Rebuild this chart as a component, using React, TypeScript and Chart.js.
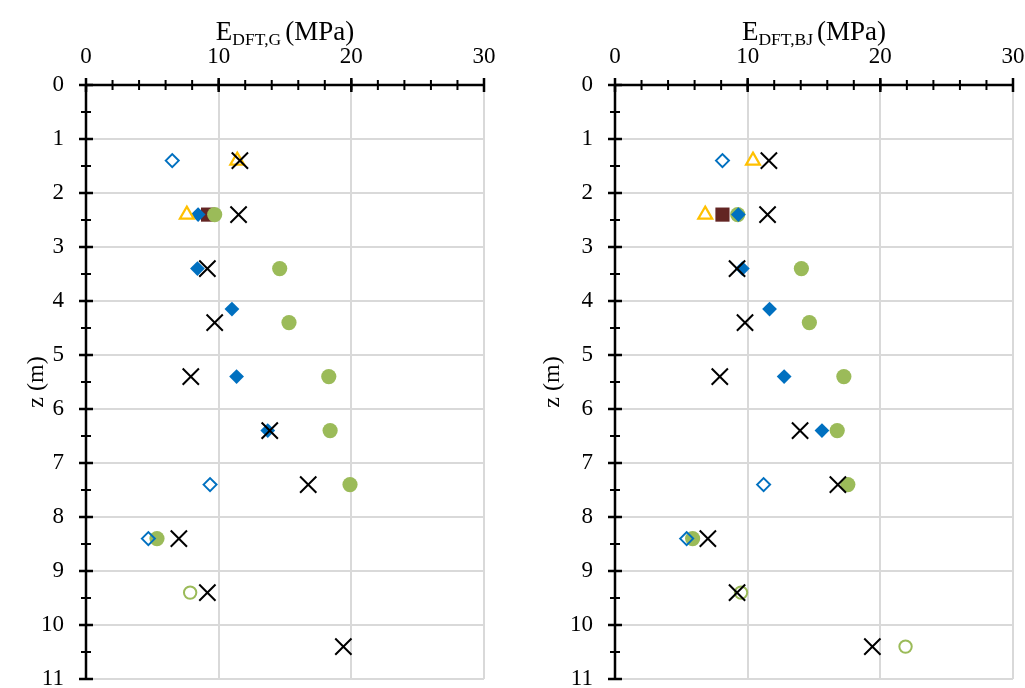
import { useEffect, useRef } from "react";
import { Chart, registerables } from "chart.js";

Chart.register(...registerables);

const FONT = "'Liberation Serif', 'Times New Roman', serif";

// Depths (m)
const openDiamondZ = [1.4, 7.4, 8.4];
const triangleZ = [1.4, 2.4];
const filledDiamondZ = [2.4, 3.4, 4.15, 5.4, 6.4];
const squareZ = [2.4];
const greenZ = [2.4, 3.4, 4.4, 5.4, 6.4, 7.4, 8.4];
const openGreenZG = [9.4];
const openGreenZBJ = [9.4, 10.4];
const crossZ = [1.4, 2.4, 3.4, 4.4, 5.4, 6.4, 7.4, 8.4, 9.4, 10.4];

// E_DFT,G (MPa)
const openDiamondG = [6.5, 9.35, 4.7];
const triangleG = [11.4, 7.6];
const filledDiamondG = [8.45, 8.4, 11.0, 11.35, 13.7];
const squareG = [9.2];
const greenG = [9.7, 14.6, 15.3, 18.3, 18.4, 19.9, 5.35];
const openGreenG = [7.85];
const crossG = [11.6, 11.5, 9.15, 9.7, 7.9, 13.85, 16.75, 7.0, 9.15, 19.4];

// E_DFT,BJ (MPa)
const openDiamondBJ = [8.1, 11.2, 5.4];
const triangleBJ = [10.4, 6.8];
const filledDiamondBJ = [9.3, 9.6, 11.65, 12.75, 15.6];
const squareBJ = [8.1];
const greenBJ = [9.25, 14.05, 14.65, 17.25, 16.75, 17.55, 5.85];
const openGreenBJ = [9.5, 21.9];
const crossBJ = [11.6, 11.5, 9.2, 9.8, 7.9, 13.95, 16.8, 7.0, 9.2, 19.4];

const xTickValues = [0, 10, 20, 30];
const zTickValues = [0, 1, 2, 3, 4, 5, 6, 7, 8, 9, 10, 11];

const BLUE = "#0070C0";
const GREEN = "#9BBB59";
const BROWN = "#632523";
const YELLOW = "#FFC000";

const pts = (xs: number[], zs: number[]) => xs.map((x, i) => ({ x, y: zs[i] }));

type PanelData = {
  openDiamond: number[];
  triangle: number[];
  filledDiamond: number[];
  square: number[];
  green: number[];
  openGreen: number[];
  openGreenZ: number[];
  cross: number[];
};

const excelAxes = {
  id: "excelAxes",
  beforeDatasetsDraw(chart: any) {
    const { ctx } = chart;
    const xs = chart.scales.x;
    const ys = chart.scales.y;
    const xMin = xTickValues[0];
    const xMax = xTickValues[xTickValues.length - 1];
    const zMin = zTickValues[0];
    const zMax = zTickValues[zTickValues.length - 1];
    const x0 = xs.getPixelForValue(xMin);
    const y0 = ys.getPixelForValue(zMin);
    ctx.save();
    ctx.strokeStyle = "#000";
    ctx.lineWidth = 2;
    ctx.beginPath();
    for (let v = xMin; v <= xMax + 1e-9; v += 2) {
      const px = xs.getPixelForValue(v);
      ctx.moveTo(px, y0 - 5);
      ctx.lineTo(px, y0 + 5);
    }
    for (let v = zMin; v <= zMax + 1e-9; v += 0.5) {
      const py = ys.getPixelForValue(v);
      ctx.moveTo(x0 - 5, py);
      ctx.lineTo(x0 + 5, py);
    }
    ctx.stroke();
    ctx.lineWidth = 2.5;
    ctx.beginPath();
    xTickValues.forEach((v) => {
      const px = xs.getPixelForValue(v);
      ctx.moveTo(px, y0 - 7);
      ctx.lineTo(px, y0 + 7);
    });
    zTickValues.forEach((v) => {
      const py = ys.getPixelForValue(v);
      ctx.moveTo(x0 - 7, py);
      ctx.lineTo(x0 + 7, py);
    });
    ctx.stroke();
    ctx.lineWidth = 2.5;
    ctx.beginPath();
    ctx.moveTo(x0, y0);
    ctx.lineTo(xs.getPixelForValue(xMax), y0);
    ctx.moveTo(x0, y0);
    ctx.lineTo(x0, ys.getPixelForValue(zMax));
    ctx.stroke();
    ctx.restore();
  },
  afterDraw(chart: any, _args: any, opts: any) {
    const { ctx, chartArea } = chart;
    ctx.save();
    ctx.fillStyle = "#000";
    const big = `27px ${FONT}`;
    const small = `17.5px ${FONT}`;
    const main = "E";
    const sub = opts.sub as string;
    const tail = "(MPa)";
    ctx.font = big;
    const wMain = ctx.measureText(main).width;
    const wTail = ctx.measureText(tail).width;
    ctx.font = small;
    const wSub = ctx.measureText(sub).width;
    const gap = 4;
    const total = wMain + wSub + gap + wTail;
    let x = (chartArea.left + chartArea.right) / 2 - total / 2;
    const base = 40;
    ctx.textBaseline = "alphabetic";
    ctx.textAlign = "left";
    ctx.font = big;
    ctx.fillText(main, x, base);
    x += wMain;
    ctx.font = small;
    ctx.fillText(sub, x, base + 5);
    x += wSub + gap;
    ctx.font = big;
    ctx.fillText(tail, x, base);
    ctx.translate(opts.yTitleX, (chartArea.top + chartArea.bottom) / 2);
    ctx.rotate(-Math.PI / 2);
    ctx.font = `24px ${FONT}`;
    ctx.textAlign = "center";
    ctx.textBaseline = "middle";
    ctx.fillText("z (m)", 0, 0);
    ctx.restore();
  },
};

function Panel(props: {
  left: number;
  width: number;
  axisWidth: number;
  rightPad: number;
  sub: string;
  yTitleX: number;
  data: PanelData;
}) {
  const ref = useRef<HTMLCanvasElement | null>(null);
  useEffect(() => {
    if (!ref.current) return;
    const d = props.data;
    const chart = new Chart(ref.current, {
      type: "scatter",
      data: {
        datasets: [
          {
            label: "cross",
            data: pts(d.cross, crossZ),
            pointStyle: "crossRot",
            pointRadius: 11.5,
            borderColor: "#000",
            backgroundColor: "#000",
            borderWidth: 2,
          },
          {
            label: "triangle",
            data: pts(d.triangle, triangleZ),
            pointStyle: "triangle",
            pointRadius: 8,
            borderColor: YELLOW,
            backgroundColor: "rgba(0,0,0,0)",
            borderWidth: 2.2,
          },
          {
            label: "openDiamond",
            data: pts(d.openDiamond, openDiamondZ),
            pointStyle: "rectRot",
            pointRadius: 6.5,
            borderColor: BLUE,
            backgroundColor: "rgba(0,0,0,0)",
            borderWidth: 2,
          },
          {
            label: "filledDiamond",
            data: pts(d.filledDiamond, filledDiamondZ),
            pointStyle: "rectRot",
            pointRadius: 7.4,
            borderColor: BLUE,
            backgroundColor: BLUE,
            borderWidth: 0,
          },
          {
            label: "green",
            data: pts(d.green, greenZ),
            pointStyle: "circle",
            pointRadius: 7.6,
            borderColor: GREEN,
            backgroundColor: GREEN,
            borderWidth: 0,
          },
          {
            label: "square",
            data: pts(d.square, squareZ),
            pointStyle: "rect",
            pointRadius: 10,
            borderColor: BROWN,
            backgroundColor: BROWN,
            borderWidth: 0,
          },
          {
            label: "openGreen",
            data: pts(d.openGreen, d.openGreenZ),
            pointStyle: "circle",
            pointRadius: 6.2,
            borderColor: GREEN,
            backgroundColor: "rgba(0,0,0,0)",
            borderWidth: 2,
          },
        ],
      },
      options: {
        responsive: false,
        animation: false,
        events: [],
        layout: { autoPadding: false, padding: { left: 0, top: 0, right: props.rightPad, bottom: 9 } },
        plugins: {
          legend: { display: false },
          tooltip: { enabled: false },
          excelAxes: { sub: props.sub, yTitleX: props.yTitleX },
        } as any,
        scales: {
          x: {
            type: "linear",
            position: "top",
            min: 0,
            max: 30,
            afterBuildTicks: (s: any) => {
              s.ticks = xTickValues.map((v) => ({ value: v }));
            },
            afterFit: (s: any) => {
              s.height = 85;
              s.paddingLeft = 0;
              s.paddingRight = 0;
            },
            ticks: {
              font: { family: FONT, size: 23 },
              color: "#000",
              padding: 14,
              maxRotation: 0,
            },
            grid: { color: "#d9d9d9", lineWidth: 2, drawTicks: false },
            border: { display: false },
          },
          y: {
            type: "linear",
            reverse: true,
            min: 0,
            max: 11,
            afterBuildTicks: (s: any) => {
              s.ticks = zTickValues.map((v) => ({ value: v }));
            },
            afterFit: (s: any) => {
              s.width = props.axisWidth;
              s.paddingTop = 0;
              s.paddingBottom = 0;
            },
            ticks: {
              font: { family: FONT, size: 23 },
              color: "#000",
              padding: 22,
            },
            grid: { color: "#d9d9d9", lineWidth: 2, drawTicks: false },
            border: { display: false },
          },
        },
      },
      plugins: [excelAxes as any],
    });
    return () => chart.destroy();
  }, []);
  return (
    <canvas
      ref={ref}
      width={props.width}
      height={688}
      style={{ position: "absolute", left: props.left, top: 0, width: props.width, height: 688, display: "block" }}
    />
  );
}

export default function App() {
  const gData: PanelData = {
    openDiamond: openDiamondG,
    triangle: triangleG,
    filledDiamond: filledDiamondG,
    square: squareG,
    green: greenG,
    openGreen: openGreenG,
    openGreenZ: openGreenZG,
    cross: crossG,
  };
  const bjData: PanelData = {
    openDiamond: openDiamondBJ,
    triangle: triangleBJ,
    filledDiamond: filledDiamondBJ,
    square: squareBJ,
    green: greenBJ,
    openGreen: openGreenBJ,
    openGreenZ: openGreenZBJ,
    cross: crossBJ,
  };
  return (
    <div style={{ position: "absolute", left: 0, top: 0, width: 1025, height: 688, background: "#fff", overflow: "hidden" }}>
      <Panel left={0} width={512} axisWidth={86} rightPad={28} sub="DFT,G" yTitleX={37} data={gData} />
      <Panel left={512} width={513} axisWidth={103} rightPad={12} sub="DFT,BJ" yTitleX={41} data={bjData} />
    </div>
  );
}
